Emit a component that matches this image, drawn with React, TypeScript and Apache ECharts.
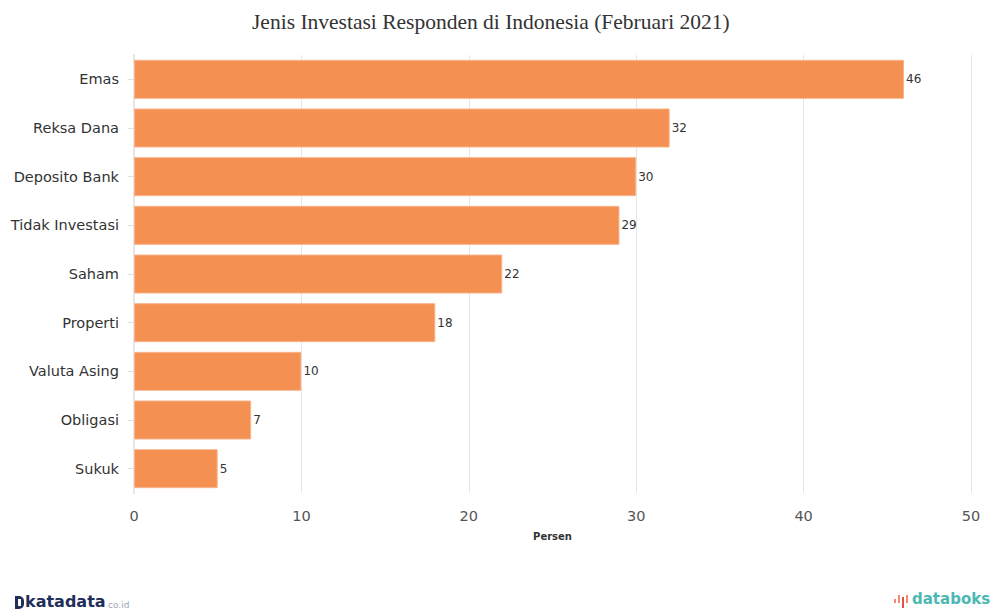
import React, { useEffect, useRef } from "react";
import * as echarts from "echarts";

const categories = ["Emas", "Reksa Dana", "Deposito Bank", "Tidak Investasi", "Saham", "Properti", "Valuta Asing", "Obligasi", "Sukuk"];
const values = [46, 32, 30, 29, 22, 18, 10, 7, 5];
const titleText = "Jenis Investasi Responden di Indonesia (Februari 2021)";
const axisName = "Persen";

export default function App() {
  const ref = useRef<HTMLDivElement>(null);
  useEffect(() => {
    if (!ref.current) return;
    const chart = echarts.init(ref.current, null, { renderer: "svg" });
    chart.setOption({
      animation: false,
      backgroundColor: "#ffffff",
      title: {
        text: titleText,
        left: 247,
        top: 6,
        textStyle: { fontFamily: "Liberation Serif, serif", fontSize: 21.5, fontWeight: "normal", color: "#333333" },
      },
      grid: { left: 134, right: 19, top: 55, bottom: 116 },
      xAxis: {
        type: "value",
        min: 0,
        max: 50,
        interval: 10,
        name: axisName,
        nameLocation: "middle",
        nameGap: 38,
        nameTextStyle: { fontFamily: "DejaVu Sans, Verdana, sans-serif", fontSize: 10, fontWeight: "bold", color: "#333333" },
        axisLine: { show: false },
        axisTick: { show: false },
        axisLabel: { fontFamily: "DejaVu Sans, Verdana, sans-serif", fontSize: 14.5, color: "#555555", margin: 15 },
        splitLine: { show: true, lineStyle: { color: "#e6e6e6", width: 1 } },
      },
      yAxis: {
        type: "category",
        data: categories,
        inverse: true,
        axisLine: { show: true, lineStyle: { color: "#e6e6e6", width: 2 } },
        axisTick: { show: true, length: 6, alignWithLabel: true, lineStyle: { color: "#e0e0e0" } },
        axisLabel: { fontFamily: "DejaVu Sans, Verdana, sans-serif", fontSize: 14.5, color: "#333333", margin: 15 },
      },
      series: [
        {
          type: "bar",
          data: values,
          barWidth: 39,
          itemStyle: { color: "#f49052", borderColor: "#f9b48a", borderWidth: 1 },
          label: {
            show: true,
            position: "right",
            distance: 2,
            fontFamily: "DejaVu Sans, Verdana, sans-serif",
            fontSize: 12,
            color: "#333333",
          },
        },
      ],
      graphic: [
        {
          type: "group",
          left: 15,
          top: 593,
          children: [
            { type: "rect", shape: { x: 0, y: 0, width: 9, height: 13, r: [0, 5, 5, 0] }, style: { fill: "#1f2f5c" } },
            { type: "rect", shape: { x: 3, y: 3, width: 3, height: 7, r: 0 }, style: { fill: "#ffffff" } },
            { type: "text", x: 10, y: -3, style: { text: "katadata", font: "bold 16px DejaVu Sans, sans-serif", fill: "#1f2f5c" } },
            { type: "text", x: 93, y: 4, style: { text: "co.id", font: "9px DejaVu Sans, sans-serif", fill: "#9aa4b8" } },
          ],
        },
        {
          type: "group",
          left: 894,
          top: 591,
          children: [
            { type: "rect", shape: { x: 0, y: 6, width: 2, height: 4 }, style: { fill: "#f28b6b" } },
            { type: "rect", shape: { x: 4, y: 2, width: 2, height: 8 }, style: { fill: "#f28b6b" } },
            { type: "rect", shape: { x: 8, y: 4, width: 2, height: 11 }, style: { fill: "#e2504f" } },
            { type: "rect", shape: { x: 12, y: 2, width: 2, height: 8 }, style: { fill: "#f28b6b" } },
            { type: "text", x: 18, y: -2, style: { text: "databoks", font: "bold 15px DejaVu Sans, sans-serif", fill: "#4cb8b3" } },
          ],
        },
      ],
    });
    return () => chart.dispose();
  }, []);
  return <div ref={ref} style={{ width: 990, height: 609, position: "absolute", left: 0, top: 0 }} />;
}
